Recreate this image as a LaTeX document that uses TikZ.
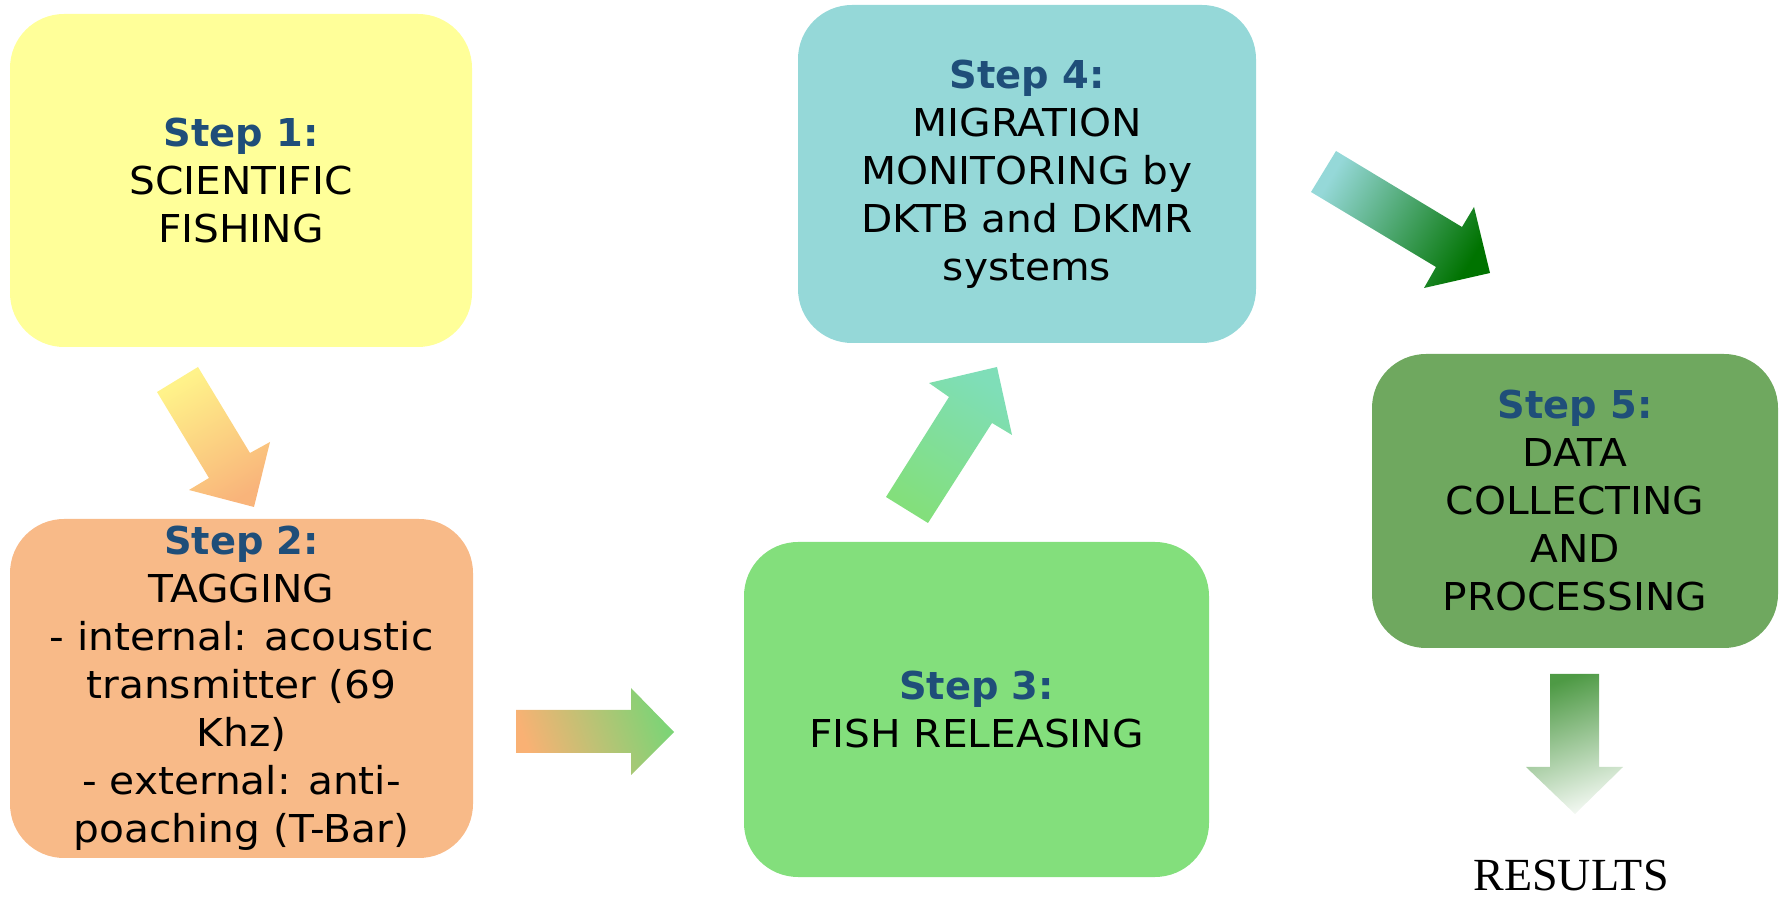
\documentclass[tikz,border=0pt]{standalone}
\usepackage{fontspec}
\setmainfont{DejaVu Sans}
\newfontfamily\widefont{DejaVu Sans}[FakeStretch=1.06]
\newfontfamily\resultsfont{Liberation Serif}
\usepackage{tikz}

\definecolor{stepblue}{HTML}{1F4E79}
\definecolor{fillA}{HTML}{FFFF99}
\definecolor{fillB}{HTML}{F8BA88}
\definecolor{fillC}{HTML}{83DF7C}
\definecolor{fillD}{HTML}{95D8D8}
\definecolor{fillE}{HTML}{6FA85F}
\definecolor{leafgreen}{HTML}{4E9A45}

\tikzset{
  stepbox/.style={rounded corners=27pt,inner sep=0pt,align=center,
    font=\widefont\fontsize{19.2pt}{24pt}\selectfont},
  arrowshade/.style={draw=none}
}
\newcommand{\steptitle}[1]{{\normalfont\bfseries\color{stepblue}Step #1:}}

\begin{document}
\begin{tikzpicture}[x=0.5pt,y=-0.5pt]
  \useasboundingbox (0,0) rectangle (1779,897);
  % the five steps
  \node[stepbox,fill=fillA,minimum width=231pt,minimum height=166.5pt] (fishing) at (241,180.5)
    {\steptitle{1}\\SCIENTIFIC\\FISHING};
  \node[stepbox,fill=fillB,minimum width=231.5pt,minimum height=169.5pt] (tagging) at (241.5,688.5)
    {\steptitle{2}\\TAGGING\\- internal: acoustic\\transmitter (69\\Khz)\\- external: anti-\\poaching (T-Bar)};
  \node[stepbox,fill=fillC,minimum width=232.5pt,minimum height=167.5pt] (release) at (976.5,709.5)
    {\steptitle{3}\\FISH RELEASING};
  \node[stepbox,fill=fillD,minimum width=229pt,minimum height=169pt] (monitor) at (1027,174)
    {\steptitle{4}\\MIGRATION\\MONITORING by\\DKTB and DKMR\\systems};
  \node[stepbox,fill=fillE,minimum width=203pt,minimum height=147pt] (data) at (1575,501)
    {\steptitle{5}\\DATA\\COLLECTING\\AND\\PROCESSING};
  \node[anchor=base,inner sep=0pt,font=\resultsfont\fontsize{23pt}{26pt}\selectfont] (results) at (1571,891) {RESULTS};

  % block arrows between the steps
  \shade[arrowshade,top color=fillA!90!orange,bottom color=fillB!90!orange,shading angle=31]
    (157,392) -- (198,367) -- (250,453) -- (270,442) -- (254,507) -- (189,490) -- (209,478) -- cycle;
  \shade[arrowshade,left color=fillB!85!orange,right color=fillC!95!black,shading angle=110]
    (516,710) -- (631,710) -- (631,688) -- (674,732) -- (631,775) -- (631,753) -- (516,753) -- cycle;
  \shade[arrowshade,top color=fillD!85!green,bottom color=fillC,shading angle=-32]
    (886,497) -- (949,397) -- (929,383) -- (997,367) -- (1012,435) -- (992,423) -- (928,523) -- cycle;
  \shade[arrowshade,top color=fillD,bottom color=green!45!black,shading angle=59]
    (1311,192) -- (1336,151) -- (1462,227) -- (1474,207) -- (1490,273) -- (1424,288) -- (1436,267) -- cycle;
  \shade[arrowshade,top color=leafgreen,bottom color=leafgreen!8,shading angle=20]
    (1550,674) -- (1599,674) -- (1599,767) -- (1623,767) -- (1575,814) -- (1526,767) -- (1550,767) -- cycle;
\end{tikzpicture}
\end{document}
